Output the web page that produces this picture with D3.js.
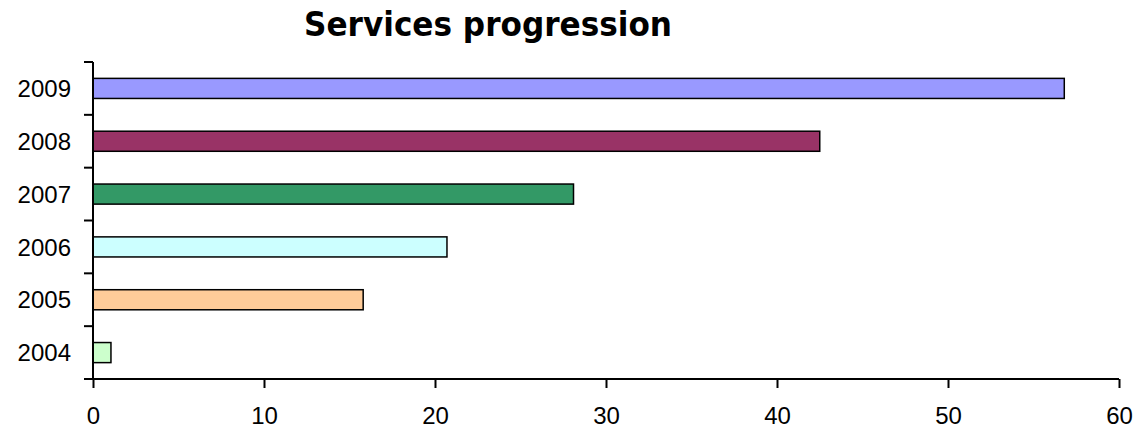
<!DOCTYPE html>
<html><head><meta charset="utf-8">
<script src="https://cdn.jsdelivr.net/npm/d3@7"></script>
<style>body{margin:0;background:#fff}</style>
</head><body>
<svg id="c" width="1146" height="429"></svg>
<script>
const categories = ["2009","2008","2007","2006","2005","2004"];
const values = [56.8, 42.5, 28.1, 20.7, 15.8, 1.05];
const colors = ["#9999ff","#993366","#339966","#ccffff","#ffcc99","#ccffcc"];
const xTicks = [0,10,20,30,40,50,60];
const title = "Services progression";

const svg = d3.select("#c");
const x = d3.scaleLinear().domain([0,60]).range([93,1119]);
const y = d3.scaleBand().domain(categories).range([62,379]).paddingInner(0.62).paddingOuter(0.31);
const yBand = d3.scaleBand().domain(categories).range([62,379]);

svg.append("text").attr("x",304).attr("y",36).attr("text-anchor","start")
  .attr("font-family","'Comic Sans MS','DejaVu Sans',sans-serif").attr("font-weight","bold")
  .attr("font-size",34).attr("textLength",368).attr("lengthAdjust","spacingAndGlyphs").text(title);

svg.selectAll("rect.bar").data(values).join("rect").attr("class","bar")
  .attr("x",x(0)).attr("y",(d,i)=>y(categories[i]))
  .attr("width",d=>x(d)-x(0)).attr("height",y.bandwidth())
  .attr("fill",(d,i)=>colors[i]).attr("stroke","#000").attr("stroke-width",1.5);

// y axis
const ya = svg.append("g").attr("transform",`translate(${x(0)},0)`);
ya.append("line").attr("x1",0).attr("x2",0).attr("y1",62).attr("y2",379).attr("stroke","#000").attr("stroke-width",2);
const yTickPos = categories.map(c=>yBand(c)).concat([379]);
ya.selectAll("line.t").data(yTickPos).join("line").attr("class","t")
  .attr("x1",-9).attr("x2",0).attr("y1",d=>d).attr("y2",d=>d).attr("stroke","#000").attr("stroke-width",2);
ya.selectAll("text").data(categories).join("text")
  .attr("x",-22).attr("y",c=>yBand(c)+yBand.bandwidth()/2).attr("dy","0.36em")
  .attr("text-anchor","end").attr("font-family","'Liberation Sans',Arial,sans-serif").attr("font-size",24).text(c=>c);

// x axis
const xa = svg.append("g").attr("transform","translate(0,379)")
  .call(d3.axisBottom(x).tickValues(xTicks).tickSize(9).tickPadding(19).tickFormat(d3.format("d")));
xa.select(".domain").attr("stroke","#000").attr("stroke-width",2).attr("d",`M${x(0)},0H${x(60)}`);
xa.selectAll(".tick line").attr("stroke","#000").attr("stroke-width",2);
xa.selectAll(".tick text").attr("font-family","'Liberation Sans',Arial,sans-serif").attr("font-size",24).attr("fill","#000");
</script>
</body></html>
